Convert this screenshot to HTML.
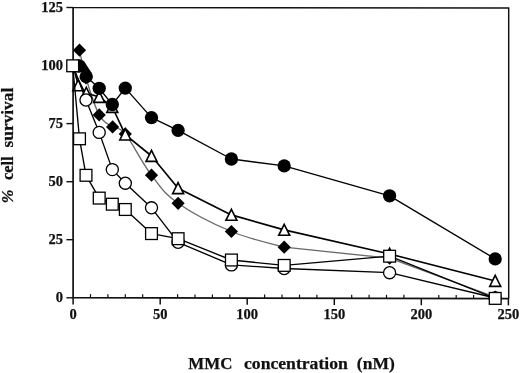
<!DOCTYPE html>
<html><head><meta charset="utf-8"><title>chart</title>
<style>
html,body{margin:0;padding:0;background:#fff;}
body{width:520px;height:373px;overflow:hidden;}
svg{display:block;will-change:transform;opacity:0.999;}
text{font-family:"Liberation Serif",serif;font-weight:bold;fill:#111;stroke:#111;stroke-width:0.25;}
</style></head><body>
<svg width="520" height="373" viewBox="0 0 520 373">
<rect x="0" y="0" width="520" height="373" fill="#fff"/>

<path d="M73.1,7.30 L73.1,297.70 L508.7,298.70" fill="none" stroke="#111" stroke-width="1.7" stroke-linejoin="miter"/>
<path d="M73.1,7.60 L508.7,8.00 L508.7,298.70" fill="none" stroke="#111" stroke-width="1.45" stroke-linejoin="miter"/>
<line x1="66.39999999999999" y1="7.5" x2="73.1" y2="7.5" stroke="#111" stroke-width="1.4"/>
<text x="62.9" y="11.6" font-size="14.5" text-anchor="end">125</text>
<line x1="66.39999999999999" y1="65.6" x2="73.1" y2="65.6" stroke="#111" stroke-width="1.4"/>
<text x="62.9" y="69.7" font-size="14.5" text-anchor="end">100</text>
<line x1="66.39999999999999" y1="123.6" x2="73.1" y2="123.6" stroke="#111" stroke-width="1.4"/>
<text x="62.9" y="127.7" font-size="14.5" text-anchor="end">75</text>
<line x1="66.39999999999999" y1="181.7" x2="73.1" y2="181.7" stroke="#111" stroke-width="1.4"/>
<text x="62.9" y="185.8" font-size="14.5" text-anchor="end">50</text>
<line x1="66.39999999999999" y1="239.7" x2="73.1" y2="239.7" stroke="#111" stroke-width="1.4"/>
<text x="62.9" y="243.8" font-size="14.5" text-anchor="end">25</text>
<line x1="66.39999999999999" y1="297.8" x2="73.1" y2="297.8" stroke="#111" stroke-width="1.4"/>
<text x="62.9" y="301.9" font-size="14.5" text-anchor="end">0</text>
<line x1="73.1" y1="297.70" x2="73.1" y2="304.40" stroke="#111" stroke-width="1.5"/>
<text x="73.1" y="319.0" font-size="14.5" text-anchor="middle">0</text>
<line x1="90.5" y1="294.14" x2="90.5" y2="297.74" stroke="#111" stroke-width="1.2"/>
<line x1="107.9" y1="294.18" x2="107.9" y2="297.78" stroke="#111" stroke-width="1.2"/>
<line x1="125.3" y1="294.22" x2="125.3" y2="297.82" stroke="#111" stroke-width="1.2"/>
<line x1="142.7" y1="294.26" x2="142.7" y2="297.86" stroke="#111" stroke-width="1.2"/>
<line x1="160.2" y1="297.90" x2="160.2" y2="304.60" stroke="#111" stroke-width="1.5"/>
<text x="160.2" y="319.0" font-size="14.5" text-anchor="middle">50</text>
<line x1="177.6" y1="294.34" x2="177.6" y2="297.94" stroke="#111" stroke-width="1.2"/>
<line x1="195.0" y1="294.38" x2="195.0" y2="297.98" stroke="#111" stroke-width="1.2"/>
<line x1="212.4" y1="294.42" x2="212.4" y2="298.02" stroke="#111" stroke-width="1.2"/>
<line x1="229.8" y1="294.46" x2="229.8" y2="298.06" stroke="#111" stroke-width="1.2"/>
<line x1="247.2" y1="298.10" x2="247.2" y2="304.80" stroke="#111" stroke-width="1.5"/>
<text x="247.2" y="319.1" font-size="14.5" text-anchor="middle">100</text>
<line x1="264.6" y1="294.54" x2="264.6" y2="298.14" stroke="#111" stroke-width="1.2"/>
<line x1="282.0" y1="294.58" x2="282.0" y2="298.18" stroke="#111" stroke-width="1.2"/>
<line x1="299.5" y1="294.62" x2="299.5" y2="298.22" stroke="#111" stroke-width="1.2"/>
<line x1="316.9" y1="294.66" x2="316.9" y2="298.26" stroke="#111" stroke-width="1.2"/>
<line x1="334.3" y1="298.30" x2="334.3" y2="305.00" stroke="#111" stroke-width="1.5"/>
<text x="334.3" y="319.1" font-size="14.5" text-anchor="middle">150</text>
<line x1="351.7" y1="294.74" x2="351.7" y2="298.34" stroke="#111" stroke-width="1.2"/>
<line x1="369.1" y1="294.78" x2="369.1" y2="298.38" stroke="#111" stroke-width="1.2"/>
<line x1="386.5" y1="294.82" x2="386.5" y2="298.42" stroke="#111" stroke-width="1.2"/>
<line x1="403.9" y1="294.86" x2="403.9" y2="298.46" stroke="#111" stroke-width="1.2"/>
<line x1="421.3" y1="298.50" x2="421.3" y2="305.20" stroke="#111" stroke-width="1.5"/>
<text x="421.3" y="319.2" font-size="14.5" text-anchor="middle">200</text>
<line x1="438.8" y1="294.94" x2="438.8" y2="298.54" stroke="#111" stroke-width="1.2"/>
<line x1="456.2" y1="294.98" x2="456.2" y2="298.58" stroke="#111" stroke-width="1.2"/>
<line x1="473.6" y1="295.02" x2="473.6" y2="298.62" stroke="#111" stroke-width="1.2"/>
<line x1="491.0" y1="295.06" x2="491.0" y2="298.66" stroke="#111" stroke-width="1.2"/>
<line x1="508.4" y1="298.70" x2="508.4" y2="305.40" stroke="#111" stroke-width="1.5"/>
<text x="508.4" y="319.2" font-size="14.5" text-anchor="middle">250</text>
<text x="188.3" y="368.6" font-size="17.3" textLength="44.1" lengthAdjust="spacingAndGlyphs">MMC</text>
<text x="244.0" y="368.6" font-size="17.3" textLength="103.8" lengthAdjust="spacingAndGlyphs">concentration</text>
<text x="356.8" y="368.6" font-size="17.3" textLength="38" lengthAdjust="spacingAndGlyphs">(nM)</text>
<g transform="translate(13.1,0) rotate(-90)">
<text x="-147.4" y="0" font-size="16.4" textLength="59.6" lengthAdjust="spacingAndGlyphs">survival</text>
<text x="-180" y="0" font-size="16.4" textLength="23.6" lengthAdjust="spacingAndGlyphs">cell</text>
<text x="-203.3" y="0" font-size="17" font-style="italic" textLength="13.6" lengthAdjust="spacingAndGlyphs">%</text>
</g>
<path d="M79.5,50.2 C80.7,55.3 82.4,66.1 86.0,78.0 C89.6,89.9 94.3,105.9 99.2,114.9 C104.1,123.9 107.8,123.4 112.6,126.9 C117.4,130.4 118.2,125.0 125.3,133.9 C132.4,142.8 141.8,162.5 151.5,175.2 C161.2,187.9 163.5,193.0 178.1,203.3 C192.7,213.6 211.9,223.5 231.4,231.5 C250.9,239.5 274.5,244.3 284.2,247.2 L389.6,258.2 L495.2,297.2" fill="none" stroke="#6a6a6a" stroke-width="1.35"/>
<path d="M72.9,50.2 L79.5,43.6 L86.1,50.2 L79.5,56.8 Z" fill="#000"/>
<path d="M79.4,78.0 L86.0,71.4 L92.6,78.0 L86.0,84.6 Z" fill="#000"/>
<path d="M92.6,114.9 L99.2,108.3 L105.8,114.9 L99.2,121.5 Z" fill="#000"/>
<path d="M106.0,126.9 L112.6,120.3 L119.2,126.9 L112.6,133.5 Z" fill="#000"/>
<path d="M118.7,133.9 L125.3,127.3 L131.9,133.9 L125.3,140.5 Z" fill="#000"/>
<path d="M144.9,175.2 L151.5,168.6 L158.1,175.2 L151.5,181.8 Z" fill="#000"/>
<path d="M171.5,203.3 L178.1,196.7 L184.7,203.3 L178.1,209.9 Z" fill="#000"/>
<path d="M224.8,231.5 L231.4,224.9 L238.0,231.5 L231.4,238.1 Z" fill="#000"/>
<path d="M277.6,247.2 L284.2,240.6 L290.8,247.2 L284.2,253.8 Z" fill="#000"/>
<path d="M383.0,258.2 L389.6,251.6 L396.2,258.2 L389.6,264.8 Z" fill="#000"/>
<path d="M488.6,297.2 L495.2,290.6 L501.8,297.2 L495.2,303.8 Z" fill="#000"/>
<polyline points="73.0,65.5 78.3,85.3 86.3,93.0 99.2,97.0 112.3,107.0 125.3,134.6 151.5,156.0 178.1,188.2 231.4,214.9 284.2,229.9 389.6,254.0 495.2,281.0" fill="none" stroke="#000" stroke-width="1.65" stroke-linejoin="round"/>
<path d="M78.3,79.7 L83.8,90.7 L72.8,90.7 Z" fill="#fff" stroke="#000" stroke-width="1.6" stroke-linejoin="miter"/>
<path d="M86.3,87.4 L91.8,98.4 L80.8,98.4 Z" fill="#fff" stroke="#000" stroke-width="1.6" stroke-linejoin="miter"/>
<path d="M99.2,91.4 L104.7,102.4 L93.7,102.4 Z" fill="#fff" stroke="#000" stroke-width="1.6" stroke-linejoin="miter"/>
<path d="M112.3,101.4 L117.8,112.4 L106.8,112.4 Z" fill="#fff" stroke="#000" stroke-width="1.6" stroke-linejoin="miter"/>
<path d="M125.3,129.0 L130.8,140.0 L119.8,140.0 Z" fill="#fff" stroke="#000" stroke-width="1.6" stroke-linejoin="miter"/>
<path d="M151.5,150.4 L157.0,161.4 L146.0,161.4 Z" fill="#fff" stroke="#000" stroke-width="1.6" stroke-linejoin="miter"/>
<path d="M178.1,182.6 L183.6,193.6 L172.6,193.6 Z" fill="#fff" stroke="#000" stroke-width="1.6" stroke-linejoin="miter"/>
<path d="M231.4,209.3 L236.9,220.3 L225.9,220.3 Z" fill="#fff" stroke="#000" stroke-width="1.6" stroke-linejoin="miter"/>
<path d="M284.2,224.3 L289.7,235.3 L278.7,235.3 Z" fill="#fff" stroke="#000" stroke-width="1.6" stroke-linejoin="miter"/>
<path d="M389.6,248.4 L395.1,259.4 L384.1,259.4 Z" fill="#fff" stroke="#000" stroke-width="1.6" stroke-linejoin="miter"/>
<path d="M495.2,275.4 L500.7,286.4 L489.7,286.4 Z" fill="#fff" stroke="#000" stroke-width="1.6" stroke-linejoin="miter"/>
<polyline points="73.0,65.5 86.0,100.0 99.2,132.4 112.3,169.6 125.3,183.2 151.5,207.8 178.1,242.3 231.4,264.9 284.2,268.5 389.6,272.7 495.2,298.0" fill="none" stroke="#000" stroke-width="1.35" stroke-linejoin="round"/>
<circle cx="86.0" cy="100.0" r="6.05" fill="#fff" stroke="#000" stroke-width="1.3"/>
<circle cx="99.2" cy="132.4" r="6.05" fill="#fff" stroke="#000" stroke-width="1.3"/>
<circle cx="112.3" cy="169.6" r="6.05" fill="#fff" stroke="#000" stroke-width="1.3"/>
<circle cx="125.3" cy="183.2" r="6.05" fill="#fff" stroke="#000" stroke-width="1.3"/>
<circle cx="151.5" cy="207.8" r="6.05" fill="#fff" stroke="#000" stroke-width="1.3"/>
<circle cx="178.1" cy="242.3" r="6.05" fill="#fff" stroke="#000" stroke-width="1.3"/>
<circle cx="231.4" cy="264.9" r="6.05" fill="#fff" stroke="#000" stroke-width="1.3"/>
<circle cx="284.2" cy="268.5" r="6.05" fill="#fff" stroke="#000" stroke-width="1.3"/>
<circle cx="389.6" cy="272.7" r="6.05" fill="#fff" stroke="#000" stroke-width="1.3"/>
<circle cx="495.2" cy="298.0" r="6.05" fill="#fff" stroke="#000" stroke-width="1.3"/>
<polyline points="73.0,65.5 79.2,66.0 86.2,76.6 99.2,88.3 112.3,104.5 125.3,88.1 151.5,117.6 178.1,130.4 231.4,159.0 284.2,165.9 389.6,195.8 495.2,258.9" fill="none" stroke="#000" stroke-width="1.35" stroke-linejoin="round"/>
<path d="M79.2,66.0 L84.7,62.3 L91.7,72.9 L86.2,76.6 Z" fill="#000"/>
<circle cx="79.2" cy="66.0" r="6.65" fill="#000"/>
<circle cx="86.2" cy="76.6" r="6.65" fill="#000"/>
<circle cx="99.2" cy="88.3" r="6.65" fill="#000"/>
<circle cx="112.3" cy="104.5" r="6.65" fill="#000"/>
<circle cx="125.3" cy="88.1" r="6.65" fill="#000"/>
<circle cx="151.5" cy="117.6" r="6.65" fill="#000"/>
<circle cx="178.1" cy="130.4" r="6.65" fill="#000"/>
<circle cx="231.4" cy="159.0" r="6.65" fill="#000"/>
<circle cx="284.2" cy="165.9" r="6.65" fill="#000"/>
<circle cx="389.6" cy="195.8" r="6.65" fill="#000"/>
<circle cx="495.2" cy="258.9" r="6.65" fill="#000"/>
<polyline points="72.7,65.8 79.5,138.8 86.0,175.3 99.2,198.1 112.3,204.2 125.3,209.5 151.5,233.6 178.1,238.7 231.4,260.0 284.2,265.4 389.6,256.2 495.2,298.4" fill="none" stroke="#000" stroke-width="1.35" stroke-linejoin="round"/>
<rect x="66.8" y="59.9" width="11.8" height="11.8" fill="#fff" stroke="#000" stroke-width="1.3"/>
<rect x="73.6" y="132.9" width="11.8" height="11.8" fill="#fff" stroke="#000" stroke-width="1.3"/>
<rect x="80.1" y="169.4" width="11.8" height="11.8" fill="#fff" stroke="#000" stroke-width="1.3"/>
<rect x="93.3" y="192.2" width="11.8" height="11.8" fill="#fff" stroke="#000" stroke-width="1.3"/>
<rect x="106.4" y="198.3" width="11.8" height="11.8" fill="#fff" stroke="#000" stroke-width="1.3"/>
<rect x="119.4" y="203.6" width="11.8" height="11.8" fill="#fff" stroke="#000" stroke-width="1.3"/>
<rect x="145.6" y="227.7" width="11.8" height="11.8" fill="#fff" stroke="#000" stroke-width="1.3"/>
<rect x="172.2" y="232.8" width="11.8" height="11.8" fill="#fff" stroke="#000" stroke-width="1.3"/>
<rect x="225.5" y="254.1" width="11.8" height="11.8" fill="#fff" stroke="#000" stroke-width="1.3"/>
<rect x="278.3" y="259.5" width="11.8" height="11.8" fill="#fff" stroke="#000" stroke-width="1.3"/>
<rect x="383.7" y="250.3" width="11.8" height="11.8" fill="#fff" stroke="#000" stroke-width="1.3"/>
<rect x="489.3" y="292.5" width="11.8" height="11.8" fill="#fff" stroke="#000" stroke-width="1.3"/>
</svg></body></html>
